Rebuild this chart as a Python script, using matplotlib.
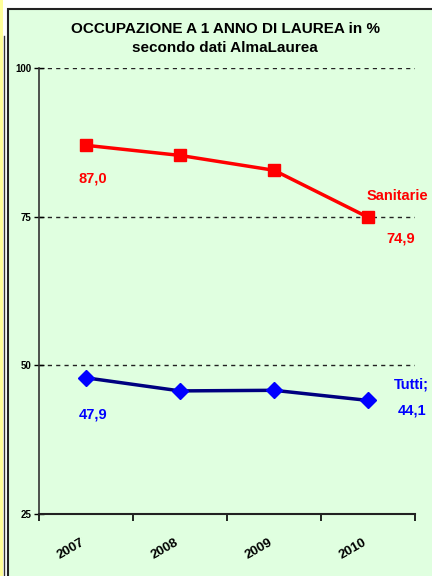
import matplotlib
matplotlib.use("Agg")
import matplotlib.pyplot as plt
from matplotlib.patches import Rectangle
from matplotlib.lines import Line2D

plt.rcParams["font.family"] = ["Liberation Sans", "DejaVu Sans"]

years = ["2007", "2008", "2009", "2010"]
sanitarie = [87.0, 85.3, 82.8, 74.9]
tutti = [47.9, 45.7, 45.8, 44.1]
yticks = [25, 50, 75, 100]

W, H = 432, 576
fig = plt.figure(figsize=(W / 100, H / 100), dpi=100)
fig.patch.set_facecolor("white")

bg = "#E0FFE0"
fig.add_artist(Rectangle((0, 0), 3 / W, 1, transform=fig.transFigure, facecolor="#FFFF99",
                         edgecolor="none", zorder=-5))
fig.add_artist(Line2D([3.5 / W, 3.5 / W], [0, 1 - 36 / H], transform=fig.transFigure,
                      color="#333333", lw=1, zorder=-5))
fig.add_artist(Rectangle((8 / W, -0.01), 1, 1 - 9 / H + 0.01, transform=fig.transFigure,
                         facecolor=bg, edgecolor="#222222", lw=1.5, zorder=-5))

x0, x1 = 39, 415
y100, y25 = 68, 514
ax = fig.add_axes([x0 / W, 1 - y25 / H, (x1 - x0) / W, (y25 - y100) / H])
ax.set_facecolor("none")
ax.set_xlim(0, 4)
ax.set_ylim(25, 100)

xs = [i + 0.5 for i in range(len(years))]

for y in [50, 75, 100]:
    ax.axhline(y, color="#222222", lw=1, ls=(0, (3, 3)), zorder=1)

ax.plot(xs, sanitarie, color="#FF0000", lw=2.5, marker="s", ms=8, mfc="#FF0000", mec="#FF0000",
        zorder=3, clip_on=False)
ax.plot(xs, tutti, color="#000080", lw=2.5, marker="D", ms=8, mfc="#0000FF", mec="#0000FF",
        zorder=3, clip_on=False)

lab = dict(fontsize=10.5, fontweight="bold")
ax.text(xs[0] - 0.08, sanitarie[0] - 5.5, "87,0", color="#FF0000", ha="left", va="center", **lab)
ax.text(xs[3] + 0.2, sanitarie[3] - 3.6, "74,9", color="#FF0000", ha="left", va="center", **lab)
ax.text(xs[3] - 0.02, sanitarie[3] + 3.5, "Sanitarie", color="#FF0000", ha="left", va="center", **lab)
ax.text(xs[0] - 0.08, tutti[0] - 6.2, "47,9", color="#0000FF", ha="left", va="center", **lab)
ax.text(xs[3] + 0.27, tutti[3] + 2.6, "Tutti;", color="#0000FF", ha="left", va="center", **lab)
ax.text(xs[3] + 0.32, tutti[3] - 1.7, "44,1", color="#0000FF", ha="left", va="center", **lab)

for s in ["top", "right"]:
    ax.spines[s].set_visible(False)
ax.spines["left"].set_color("#333333")
ax.spines["bottom"].set_color("#222222")
ax.spines["left"].set_linewidth(1.2)
ax.spines["bottom"].set_linewidth(1.5)

ax.set_yticks(yticks)
ax.set_yticklabels([str(v) for v in yticks], fontsize=7, fontweight="bold")
ax.tick_params(axis="y", direction="inout", length=7, width=1, pad=2)
ax.set_xticks(range(0, 5))
ax.set_xticklabels([])
ax.tick_params(axis="x", direction="out", length=5, width=1.2)
for x, yr in zip(xs, years):
    ax.text(x - 0.06, -0.05, yr, transform=ax.get_xaxis_transform(), rotation=30,
            ha="right", va="top", fontsize=9.5, fontweight="bold", rotation_mode="anchor")

fig.text(225 / W, 1 - 29 / H, "OCCUPAZIONE A 1 ANNO DI LAUREA in %", ha="center", va="center",
         fontsize=11, fontweight="bold")
fig.text(225 / W, 1 - 48 / H, "secondo dati AlmaLaurea", ha="center", va="center",
         fontsize=11, fontweight="bold")

fig.savefig("out.png", dpi=100, facecolor=fig.get_facecolor())
